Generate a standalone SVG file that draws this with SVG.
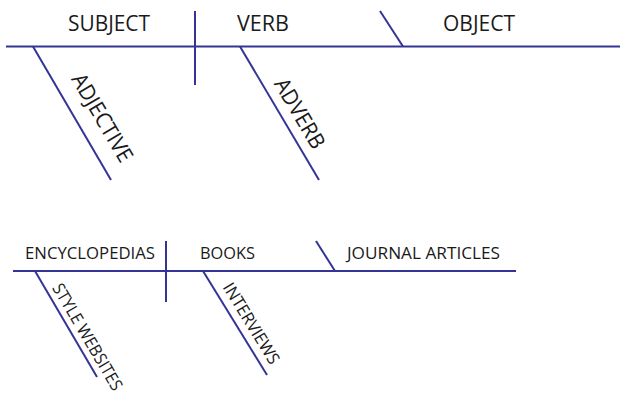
<svg xmlns="http://www.w3.org/2000/svg" width="620" height="401" viewBox="0 0 620 401">
<style>
.ln{stroke:#343496;stroke-width:2;fill:none;stroke-linecap:butt}
.t1{font-family:"Open Sans","Noto Sans","Liberation Sans",sans-serif;font-size:22px;fill:#1a1a1a}
.t2{font-family:"Open Sans","Noto Sans","Liberation Sans",sans-serif;font-size:17px;fill:#1a1a1a}
</style>
<rect width="620" height="401" fill="#ffffff"/>
<g id="connectors">
<line class="ln" x1="6" y1="46.5" x2="620" y2="46.5"/>
<line class="ln" x1="195" y1="11" x2="195" y2="85"/>
<line class="ln" x1="380" y1="11" x2="403" y2="46.5"/>
<line class="ln" x1="33" y1="46.5" x2="111" y2="180"/>
<line class="ln" x1="240" y1="46.5" x2="319" y2="180"/>
<line class="ln" x1="13" y1="271" x2="516" y2="271"/>
<line class="ln" x1="166" y1="241" x2="166" y2="302"/>
<line class="ln" x1="316" y1="241" x2="335" y2="271"/>
<line class="ln" x1="35" y1="271" x2="97" y2="377"/>
<line class="ln" x1="203" y1="271" x2="267" y2="375"/>
</g>
<g id="subject"><text class="t1" x="68" y="31" textLength="82" lengthAdjust="spacingAndGlyphs">SUBJECT</text></g>
<g id="verb"><text class="t1" x="237" y="31" textLength="52" lengthAdjust="spacingAndGlyphs">VERB</text></g>
<g id="object"><text class="t1" x="443" y="31" textLength="72" lengthAdjust="spacingAndGlyphs">OBJECT</text></g>
<g id="adjective" transform="translate(33,46.5) rotate(59.5)"><text class="t1" x="47" y="-16" textLength="99" lengthAdjust="spacingAndGlyphs">ADJECTIVE</text></g>
<g id="adverb" transform="translate(240,46.5) rotate(59.5)"><text class="t1" x="49" y="-10" textLength="78" lengthAdjust="spacingAndGlyphs">ADVERB</text></g>
<g id="encyclopedias"><text class="t2" x="25" y="258.5" textLength="130" lengthAdjust="spacingAndGlyphs">ENCYCLOPEDIAS</text></g>
<g id="books"><text class="t2" x="200" y="258.5" textLength="55" lengthAdjust="spacingAndGlyphs">BOOKS</text></g>
<g id="journal-articles"><text class="t2" x="347" y="258.5" textLength="153" lengthAdjust="spacingAndGlyphs">JOURNAL ARTICLES</text></g>
<g id="style-websites" transform="translate(35,271) rotate(59.5)"><text class="t2" x="23" y="-6" textLength="121" lengthAdjust="spacingAndGlyphs">STYLE WEBSITES</text></g>
<g id="interviews" transform="translate(203,271) rotate(58.5)"><text class="t2" x="24" y="-8" textLength="92" lengthAdjust="spacingAndGlyphs">INTERVIEWS</text></g>
</svg>
